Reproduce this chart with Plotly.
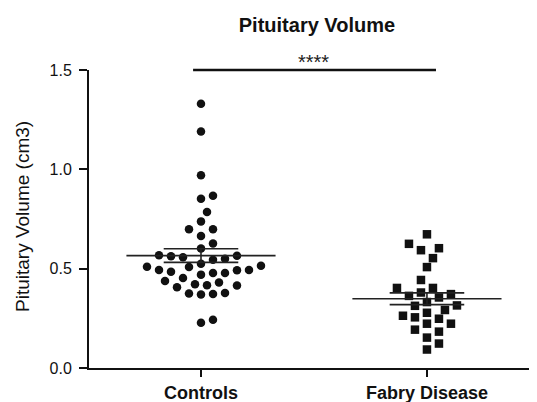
import numpy as np
import plotly.graph_objects as go

categories = ["Controls", "Fabry Disease"]
controls = [1.33, 1.19, 0.97, 0.867, 0.852, 0.785, 0.738, 0.698, 0.698, 0.665, 0.627, 0.602,
            0.567, 0.563, 0.565, 0.557, 0.55, 0.545, 0.525, 0.51, 0.508, 0.515, 0.493, 0.492,
            0.493, 0.485, 0.478, 0.47, 0.478, 0.453, 0.438, 0.422, 0.415, 0.43, 0.417, 0.407,
            0.378, 0.372, 0.37, 0.375, 0.228, 0.243]
fabry = [0.673, 0.603, 0.625, 0.593, 0.553, 0.508, 0.443, 0.403, 0.403, 0.372, 0.38, 0.355,
         0.363, 0.332, 0.315, 0.292, 0.313, 0.278, 0.263, 0.248, 0.223, 0.223, 0.255, 0.183,
         0.193, 0.153, 0.123, 0.093]
y_ticks = [0.0, 0.5, 1.0, 1.5]
y_tick_labels = ["0.0", "0.5", "1.0", "1.5"]
title = "Pituitary Volume"
y_title = "Pituitary Volume (cm3)"
sig_label = "****"

PX_PER_CAT = 226.0
PX_PER_VAL = 199.0


def swarm(vals, diam=10.5, step=6.0):
    placed = []
    xs = [0.0] * len(vals)
    order = sorted(range(len(vals)), key=lambda i: vals[i])
    cands = [0]
    for j in range(1, 40):
        cands += [j, -j]
    for i in order:
        y = vals[i] * PX_PER_VAL
        for k in cands:
            x = k * step
            if all((x - px) ** 2 + (y - py) ** 2 >= diam ** 2 for px, py in placed):
                break
        placed.append((x, y))
        xs[i] = x / PX_PER_CAT
    return xs


FONT = "Arial, Liberation Sans, sans-serif"
fig = go.Figure()

groups = [(controls, "circle", 8.5), (fabry, "square", 8.5)]
for gi, (vals, sym, size) in enumerate(groups):
    offs = swarm(vals)
    fig.add_trace(go.Scatter(
        x=[gi + o for o in offs], y=vals, mode="markers",
        marker=dict(symbol=sym, size=size, color="#111111", line=dict(width=0)),
        showlegend=False, hoverinfo="y"))
    arr = np.array(vals)
    m = arr.mean()
    sem = arr.std(ddof=1) / np.sqrt(len(arr))
    xs = [gi - 0.33, gi + 0.33, None, gi, gi, None,
          gi - 0.165, gi + 0.165, None, gi - 0.165, gi + 0.165]
    ys = [m, m, None, m - sem, m + sem, None,
          m + sem, m + sem, None, m - sem, m - sem]
    fig.add_trace(go.Scatter(x=xs, y=ys, mode="lines",
                             line=dict(color="#222222", width=1.6),
                             showlegend=False, hoverinfo="skip"))

# significance bar (at the top of the y range)
fig.add_shape(type="line", xref="x", yref="paper", x0=-0.035, x1=1.04, y0=1, y1=1,
              line=dict(color="#111111", width=2.6), layer="above")
fig.add_annotation(x=0.5, y=1.5, xref="x", yref="y", text=sig_label, showarrow=False,
                   yshift=8, font=dict(family=FONT, size=20, color="#222222"))

# y-axis title
fig.add_annotation(x=-0.1496, y=0.51, xref="paper", yref="paper", text=y_title,
                   textangle=-90, showarrow=False, xanchor="center", yanchor="middle",
                   font=dict(family=FONT, size=19, color="#111111"))

fig.update_layout(
    width=529, height=394,
    margin=dict(l=81, r=0, t=62, b=33.5, pad=0, autoexpand=False),
    paper_bgcolor="white", plot_bgcolor="white",
    title=dict(text="<b>" + title + "</b>", x=0.584, xanchor="center", y=0.9556, yanchor="middle",
               font=dict(family=FONT, size=20, color="#111111")),
    font=dict(family=FONT, color="#111111"),
    xaxis=dict(range=[-0.4956, 1.487], tickvals=[0, 1],
               ticktext=["<b>" + c + "</b>" for c in categories],
               tickfont=dict(family=FONT, size=18, color="#111111"),
               showline=True, linecolor="#111111", linewidth=2,
               ticks="outside", ticklen=7, tickwidth=2, tickcolor="#111111",
               ticklabelstandoff=0, automargin=False,
               showgrid=False, zeroline=False, fixedrange=True),
    yaxis=dict(range=[0, 1.5], tickvals=y_ticks, ticktext=y_tick_labels,
               tickfont=dict(family=FONT, size=16, color="#111111"),
               showline=True, linecolor="#111111", linewidth=2,
               ticks="outside", ticklen=8, tickwidth=2, tickcolor="#111111",
               ticklabelstandoff=4, automargin=False,
               showgrid=False, zeroline=False),
)

fig.write_html("out.html")
